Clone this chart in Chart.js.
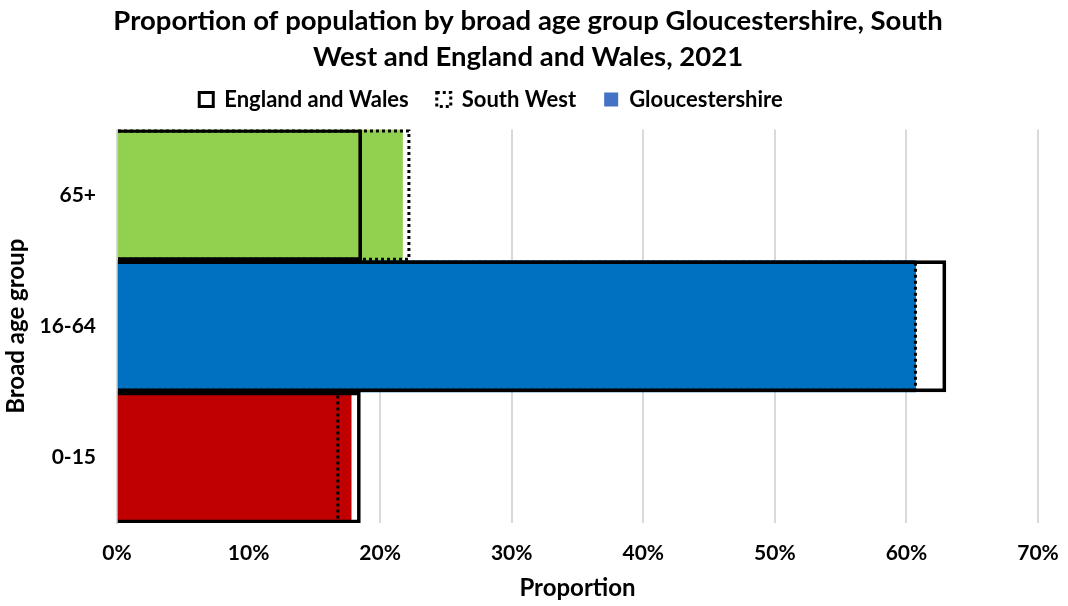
<!DOCTYPE html>
<html>
<head>
<meta charset="utf-8">
<script src="https://cdn.jsdelivr.net/npm/chart.js@4"></script>
<style>
  body { margin: 0; background: #fff; }
  #wrap { width: 1068px; height: 606px; }
</style>
</head>
<body>
<div id="wrap"><canvas id="chart" width="1068" height="606"></canvas></div>
<script>
// Age groups, top to bottom
const ageGroups = ['65+', '16-64', '0-15'];

// Proportions (%)
const gloucestershire = [21.7, 60.7, 17.8];
const southWest = [22.3, 60.8, 16.9];
const englandWales = [18.6, 63.0, 18.5];

const xTicks = [0, 10, 20, 30, 40, 50, 60, 70];

const glosColours = ['#92D050', '#0070C0', '#C00000'];
const FONT = 'Lato, Carlito, Calibri, sans-serif';

// Bars can't do dashed borders, so stroke the South West boxes ourselves
// (top, right and bottom only - the left side sits on the axis)
const dottedBorder = {
  id: 'dottedBorder',
  afterDatasetsDraw(chart) {
    const meta = chart.getDatasetMeta(2);
    const ctx = chart.ctx;
    ctx.save();
    ctx.strokeStyle = '#000';
    ctx.lineWidth = 3;
    ctx.setLineDash([3, 3]);
    meta.data.forEach(bar => {
      const { x, y, base, height } = bar.getProps(['x', 'y', 'base', 'height'], true);
      const top = y - height / 2 + 1.5;
      const bottom = y + height / 2 - 1.5;
      const right = x - 1.5;
      ctx.beginPath();
      ctx.moveTo(base, top);
      ctx.lineTo(right, top);
      ctx.lineTo(right, bottom);
      ctx.lineTo(base, bottom);
      ctx.stroke();
    });
    ctx.restore();
  }
};

// Nudge title and legend sideways to where Excel put them
const nudgeBoxes = {
  id: 'nudgeBoxes',
  afterLayout(chart) {
    chart.legend.left -= 28;
    chart.legend.right -= 28;
    chart.titleBlock.left += 9;
    chart.titleBlock.right += 9;
  }
};

new Chart(document.getElementById('chart'), {
  type: 'bar',
  data: {
    labels: ageGroups,
    datasets: [
      {
        label: 'Gloucestershire',
        data: gloucestershire,
        backgroundColor: glosColours,
        borderWidth: 0,
        grouped: false,
        order: 3
      },
      {
        label: 'England and Wales',
        data: englandWales,
        backgroundColor: 'rgba(0,0,0,0)',
        borderColor: '#000',
        borderWidth: 3,
        grouped: false,
        order: 2
      },
      {
        label: 'South West',
        data: southWest,
        backgroundColor: 'rgba(0,0,0,0)',
        borderWidth: 0,
        grouped: false,
        order: 1
      }
    ]
  },
  options: {
    indexAxis: 'y',
    responsive: false,
    animation: false,
    datasets: {
      bar: { categoryPercentage: 1, barPercentage: 1 }
    },
    layout: { padding: { left: 0, right: 30, top: 0, bottom: 0 } },
    plugins: {
      title: {
        display: true,
        text: ['Proportion of population by broad age group Gloucestershire, South', 'West and England and Wales, 2021'],
        color: '#000',
        font: { family: FONT, size: 27.5, weight: 'bold', lineHeight: 1.3 },
        padding: { top: 3, bottom: -14 }
      },
      // empty spacer between the legend and the plot
      subtitle: {
        display: true,
        text: '',
        weight: 500,
        font: { size: 1, lineHeight: 1 },
        padding: { top: 8, bottom: 0 }
      },
      legend: {
        position: 'top',
        labels: {
          color: '#000',
          font: { family: FONT, size: 22, weight: 'bold' },
          boxWidth: 14,
          boxHeight: 14,
          padding: 28,
          generateLabels() {
            return [
              { text: 'England and Wales', fillStyle: '#fff', strokeStyle: '#000', lineWidth: 3 },
              { text: 'South West', fillStyle: '#fff', strokeStyle: '#000', lineWidth: 3, lineDash: [3, 3] },
              { text: 'Gloucestershire', fillStyle: '#4472C4', strokeStyle: '#4472C4', lineWidth: 0 }
            ];
          }
        }
      },
      tooltip: { enabled: false }
    },
    scales: {
      x: {
        min: 0,
        max: 70,
        afterBuildTicks: axis => { axis.ticks = xTicks.map(v => ({ value: v })); },
        afterFit: axis => {
          axis.height = 83;
          axis.paddingLeft = 0;
          axis.paddingRight = 0;
        },
        grid: { color: '#d9d9d9', lineWidth: 2, drawTicks: false },
        border: { display: false },
        ticks: {
          color: '#000',
          padding: 18,
          font: { family: FONT, size: 21, weight: 'bold' },
          callback: v => v + '%'
        },
        title: {
          display: true,
          text: 'Proportion',
          color: '#000',
          font: { family: FONT, size: 24, weight: 'bold' },
          padding: { top: 0, bottom: 3 }
        }
      },
      y: {
        afterFit: axis => { axis.width = 117; },
        grid: { display: false, drawTicks: false },
        border: { display: true, color: '#d9d9d9', width: 2 },
        ticks: {
          color: '#000',
          padding: 21,
          font: { family: FONT, size: 21, weight: 'bold' }
        },
        title: {
          display: true,
          text: 'Broad age group',
          color: '#000',
          font: { family: FONT, size: 24, weight: 'bold' },
          padding: { top: 2, bottom: 0 }
        }
      }
    }
  },
  plugins: [dottedBorder, nudgeBoxes]
});
</script>
</body>
</html>
